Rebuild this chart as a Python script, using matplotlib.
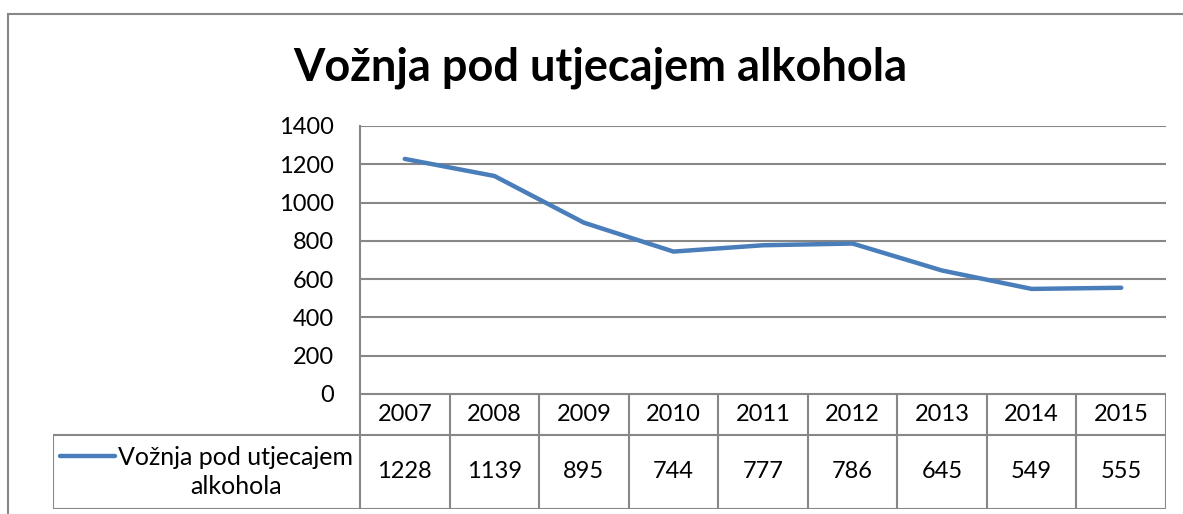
import matplotlib
matplotlib.use("Agg")
import matplotlib.pyplot as plt
from matplotlib.lines import Line2D

plt.rcParams['font.family'] = ['Lato', 'DejaVu Sans']

title = "Vožnja pod utjecajem alkohola"
series_name = "Vožnja pod utjecajem alkohola"
series_label_lines = "Vožnja pod utjecajem\nalkohola"
years = ["2007", "2008", "2009", "2010", "2011", "2012", "2013", "2014", "2015"]
values = [1228, 1139, 895, 744, 777, 786, 645, 549, 555]
yticks = [0, 200, 400, 600, 800, 1000, 1200, 1400]

W, H = 1183, 514
fig = plt.figure(figsize=(W / 100, H / 100), dpi=100)

def fx(px):
    return px / W

def fy(py):
    return 1 - py / H

LINE_C = '#4A7EBB'
GRID_C = '#878787'
FS = 17
FS_LEG = 18

# outer chart border (top and left visible)
fig.add_artist(Line2D([fx(7.5), fx(1183)], [fy(13.5), fy(13.5)], color=GRID_C, lw=1.5))
fig.add_artist(Line2D([fx(7.5), fx(7.5)], [fy(13.5), fy(514)], color=GRID_C, lw=1.5))

# title
fig.text(fx(600), fy(68), title, ha='center', va='center', fontsize=32.5, fontweight='bold')

# main plot
L, R, T, B = 360, 1166, 126, 394
ax = fig.add_axes([fx(L), fy(B), fx(R) - fx(L), fy(T) - fy(B)])
x = list(range(len(years)))
ax.plot(x, values, color=LINE_C, lw=3.2, solid_capstyle='round', solid_joinstyle='round')
ax.set_xlim(-0.5, len(years) - 0.5)
ax.set_ylim(0, 1400)
ax.set_yticks(yticks)
ax.set_yticklabels([str(v) for v in yticks], fontsize=FS)
ax.set_xticks([])
ax.tick_params(axis='y', length=0, pad=19)
for s in ['top', 'right', 'bottom']:
    ax.spines[s].set_visible(False)
ax.spines['left'].set_color(GRID_C)
ax.spines['left'].set_linewidth(1.5)
ax.grid(axis='y', color=GRID_C, lw=1.5)
ax.set_axisbelow(True)

# data table axes
TL, TB = 53, 509
unit = (R - L) / len(years)
tax = fig.add_axes([fx(TL), fy(TB), fx(R) - fx(TL), fy(B) - fy(TB)])
x0 = -0.5 - (L - TL) / unit
tax.set_xlim(x0, len(years) - 0.5)
tax.set_ylim(0, 1)
tax.axis('off')
rowb = (TB - 435) / (TB - B)
lk = dict(color=GRID_C, lw=1.5, solid_capstyle='projecting')
# horizontal lines
tax.plot([-0.5, len(years) - 0.5], [1, 1], **lk)
tax.plot([x0, len(years) - 0.5], [rowb, rowb], **lk)
tax.plot([x0, len(years) - 0.5], [0, 0], **lk)
# vertical lines
for i in range(len(years) + 1):
    tax.plot([i - 0.5, i - 0.5], [0, 1], **lk)
tax.plot([x0, x0], [0, rowb], **lk)
for i, (yr, v) in enumerate(zip(years, values)):
    tax.text(i, (1 + rowb) / 2, yr, ha='center', va='center', fontsize=FS)
    tax.text(i, rowb / 2, str(v), ha='center', va='center', fontsize=FS)

# legend key in table
lx0 = x0 + (60 - TL) / unit
lx1 = x0 + (115 - TL) / unit
ky = (TB - 456) / (TB - B)
tax.plot([lx0, lx1], [ky, ky], color=LINE_C, lw=3.2, solid_capstyle='round')
tax.text(x0 + (236 - TL) / unit, rowb / 2, series_label_lines, ha='center', va='center',
         fontsize=FS_LEG, linespacing=1.35)

fig.savefig("out.png", dpi=100)
